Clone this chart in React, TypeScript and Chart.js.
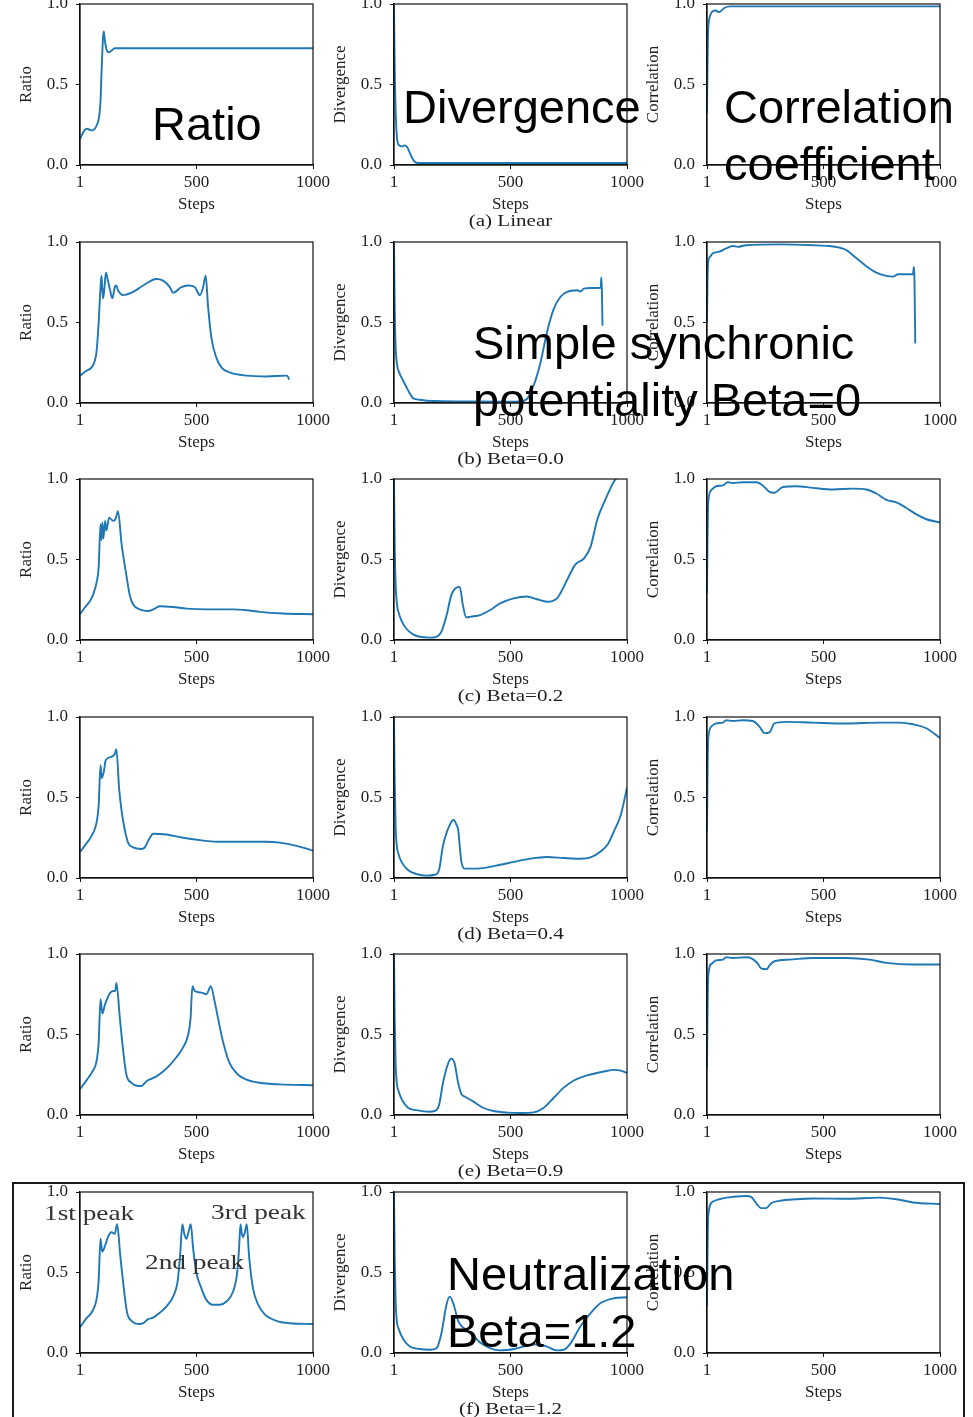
import React, { useEffect, useRef } from "react";
import { Chart, registerables } from "chart.js";

Chart.register(...registerables);

// ---- shared axis labels ----
const STEP_TICKS = [1, 500, 1000];
const VALUE_TICKS = [0, 0.5, 1];
const Y_TITLES = ["Ratio", "Divergence", "Correlation"];
const CAPTIONS = ["(a) Linear", "(b) Beta=0.0", "(c) Beta=0.2", "(d) Beta=0.4", "(e) Beta=0.9", "(f) Beta=1.2"];

// ---- (a) Linear ----
const linearRatioSteps = [1, 10, 20, 31, 50, 64, 74, 83, 89, 94, 100, 103, 107, 114, 124, 136, 150, 1000];
const linearRatio = [0.16, 0.19, 0.215, 0.225, 0.215, 0.225, 0.25, 0.3, 0.4, 0.6, 0.8, 0.83, 0.78, 0.72, 0.7, 0.71, 0.725, 0.725];
const linearDivergenceSteps = [1, 4, 8, 13, 19, 26, 34, 47, 58, 69, 80, 90, 104, 1000];
const linearDivergence = [1.0, 0.6, 0.34, 0.18, 0.13, 0.12, 0.115, 0.122, 0.11, 0.075, 0.04, 0.02, 0.012, 0.012];
const linearCorrelationSteps = [1, 3, 5, 8, 15, 25, 40, 50, 60, 75, 100, 1000];
const linearCorrelation = [0.32, 0.6, 0.8, 0.88, 0.93, 0.955, 0.96, 0.95, 0.955, 0.975, 0.985, 0.985];

// ---- (b) Beta=0.0 ----
const beta00RatioSteps = [1, 29, 50, 64, 72, 81, 89, 93, 97, 100, 106, 112, 118, 130, 140, 150, 156, 164, 186, 229, 272, 329, 357, 386, 400, 436, 465, 493, 515, 529, 540, 550, 565, 586, 608, 643, 715, 800, 886, 892, 898];
const beta00Ratio = [0.17, 0.2, 0.22, 0.26, 0.32, 0.5, 0.72, 0.79, 0.7, 0.65, 0.72, 0.81, 0.78, 0.7, 0.65, 0.72, 0.73, 0.7, 0.67, 0.69, 0.73, 0.77, 0.76, 0.72, 0.685, 0.72, 0.73, 0.72, 0.67, 0.72, 0.79, 0.6, 0.4, 0.28, 0.22, 0.19, 0.17, 0.165, 0.17, 0.165, 0.145];
const beta00DivergenceSteps = [1, 4, 8, 14, 23, 40, 61, 83, 111, 169, 300, 450, 540, 571, 600, 629, 657, 686, 715, 743, 786, 800, 815, 844, 887, 890, 892, 895];
const beta00Divergence = [1.0, 0.6, 0.35, 0.24, 0.19, 0.14, 0.08, 0.03, 0.02, 0.012, 0.01, 0.008, 0.01, 0.025, 0.11, 0.25, 0.44, 0.585, 0.66, 0.69, 0.7, 0.693, 0.71, 0.714, 0.716, 0.78, 0.716, 0.48];
const beta00CorrelationSteps = [1, 3, 6, 15, 26, 54, 83, 112, 133, 169, 312, 455, 526, 569, 598, 641, 684, 727, 770, 798, 820, 884, 888, 890, 892, 894];
const beta00Correlation = [0.5, 0.75, 0.875, 0.91, 0.93, 0.94, 0.96, 0.975, 0.97, 0.98, 0.985, 0.98, 0.975, 0.965, 0.95, 0.9, 0.85, 0.81, 0.79, 0.785, 0.8, 0.8, 0.845, 0.8, 0.6, 0.37];

// ---- (c) Beta=0.2 ----
const beta02RatioSteps = [1, 21, 43, 57, 74, 81, 89, 93, 97, 101, 109, 114, 126, 143, 153, 164, 179, 200, 214, 229, 257, 293, 315, 343, 400, 457, 543, 657, 715, 772, 872, 1000];
const beta02Ratio = [0.16, 0.2, 0.24, 0.28, 0.37, 0.45, 0.72, 0.62, 0.73, 0.63, 0.74, 0.68, 0.76, 0.74, 0.75, 0.8, 0.6, 0.4, 0.28, 0.22, 0.19, 0.18, 0.19, 0.21, 0.205, 0.195, 0.19, 0.19, 0.185, 0.175, 0.165, 0.16];
const beta02DivergenceSteps = [1, 4, 8, 14, 21, 33, 54, 83, 111, 154, 183, 204, 226, 247, 268, 283, 296, 311, 330, 370, 413, 456, 514, 571, 614, 657, 700, 743, 779, 815, 844, 873, 908, 944, 958];
const beta02Divergence = [1.0, 0.6, 0.35, 0.22, 0.17, 0.12, 0.07, 0.035, 0.02, 0.015, 0.02, 0.05, 0.15, 0.28, 0.325, 0.33, 0.22, 0.14, 0.145, 0.155, 0.186, 0.228, 0.259, 0.27, 0.253, 0.238, 0.259, 0.373, 0.47, 0.505, 0.58, 0.75, 0.875, 0.985, 1.01];
const beta02CorrelationSteps = [1, 3, 6, 19, 40, 69, 90, 112, 155, 212, 240, 269, 290, 326, 383, 455, 541, 627, 684, 727, 770, 813, 856, 899, 942, 1000];
const beta02Correlation = [0.29, 0.6, 0.85, 0.93, 0.955, 0.96, 0.98, 0.975, 0.98, 0.98, 0.96, 0.92, 0.915, 0.95, 0.955, 0.945, 0.935, 0.94, 0.935, 0.91, 0.87, 0.855, 0.82, 0.78, 0.75, 0.73];

// ---- (d) Beta=0.4 ----
const beta04RatioSteps = [1, 31, 50, 74, 81, 89, 94, 103, 111, 129, 150, 157, 169, 179, 193, 207, 229, 264, 279, 297, 315, 372, 443, 515, 586, 657, 800, 857, 929, 1000];
const beta04Ratio = [0.16, 0.22, 0.26, 0.36, 0.45, 0.7, 0.62, 0.66, 0.73, 0.75, 0.77, 0.8, 0.55, 0.42, 0.3, 0.22, 0.19, 0.18, 0.19, 0.24, 0.275, 0.27, 0.25, 0.235, 0.225, 0.225, 0.225, 0.22, 0.2, 0.17];
const beta04DivergenceSteps = [1, 4, 8, 13, 20, 33, 61, 97, 140, 176, 194, 211, 240, 257, 269, 276, 284, 290, 304, 370, 456, 514, 586, 657, 729, 800, 844, 887, 916, 944, 973, 1000];
const beta04Divergence = [1.0, 0.6, 0.32, 0.2, 0.15, 0.1, 0.05, 0.025, 0.015, 0.02, 0.05, 0.2, 0.33, 0.36, 0.33, 0.3, 0.18, 0.1, 0.058, 0.06, 0.082, 0.1, 0.12, 0.13, 0.124, 0.12, 0.128, 0.165, 0.206, 0.29, 0.39, 0.56];
const beta04CorrelationSteps = [1, 3, 6, 19, 40, 69, 83, 112, 155, 197, 226, 247, 269, 290, 340, 455, 598, 741, 827, 884, 941, 1000];
const beta04Correlation = [0.29, 0.6, 0.86, 0.94, 0.96, 0.965, 0.98, 0.975, 0.98, 0.975, 0.94, 0.9, 0.905, 0.96, 0.97, 0.965, 0.96, 0.965, 0.965, 0.955, 0.93, 0.87];

// ---- (e) Beta=0.9 ----
const beta09RatioSteps = [1, 31, 50, 74, 81, 89, 97, 107, 117, 131, 146, 152, 157, 172, 186, 200, 222, 250, 264, 286, 307, 329, 357, 386, 415, 443, 465, 475, 483, 493, 522, 543, 562, 579, 593, 615, 643, 679, 715, 772, 857, 1000];
const beta09Ratio = [0.16, 0.22, 0.26, 0.35, 0.45, 0.72, 0.63, 0.68, 0.72, 0.76, 0.77, 0.77, 0.82, 0.6, 0.4, 0.25, 0.2, 0.18, 0.18, 0.21, 0.225, 0.24, 0.27, 0.31, 0.36, 0.42, 0.5, 0.6, 0.8, 0.77, 0.76, 0.75, 0.8, 0.7, 0.6, 0.45, 0.32, 0.25, 0.22, 0.2, 0.19, 0.185];
const beta09DivergenceSteps = [1, 4, 8, 13, 20, 37, 61, 97, 154, 176, 194, 211, 233, 247, 261, 276, 290, 304, 340, 383, 428, 485, 543, 600, 643, 686, 729, 772, 815, 857, 901, 944, 973, 1000];
const beta09Divergence = [1.0, 0.6, 0.32, 0.2, 0.15, 0.09, 0.045, 0.03, 0.02, 0.025, 0.06, 0.2, 0.32, 0.35, 0.32, 0.2, 0.13, 0.115, 0.085, 0.045, 0.025, 0.015, 0.012, 0.016, 0.045, 0.107, 0.17, 0.214, 0.24, 0.256, 0.27, 0.28, 0.276, 0.26];
const beta09CorrelationSteps = [1, 3, 6, 21, 40, 69, 83, 112, 169, 190, 219, 233, 257, 269, 290, 355, 455, 598, 698, 770, 884, 1000];
const beta09Correlation = [0.29, 0.6, 0.86, 0.94, 0.96, 0.965, 0.98, 0.975, 0.98, 0.975, 0.94, 0.91, 0.905, 0.93, 0.955, 0.965, 0.975, 0.975, 0.965, 0.945, 0.935, 0.935];

// ---- (f) Beta=1.2 ----
const beta12RatioSteps = [1, 31, 50, 74, 81, 89, 96, 107, 121, 136, 150, 160, 174, 189, 203, 222, 257, 272, 293, 315, 343, 372, 400, 420, 430, 440, 448, 457, 466, 476, 486, 500, 522, 543, 572, 600, 629, 657, 675, 683, 689, 695, 700, 708, 716, 726, 743, 765, 793, 843, 900, 1000];
const beta12Ratio = [0.16, 0.22, 0.25, 0.35, 0.45, 0.71, 0.63, 0.66, 0.72, 0.75, 0.74, 0.8, 0.6, 0.4, 0.25, 0.2, 0.18, 0.185, 0.21, 0.22, 0.25, 0.29, 0.35, 0.45, 0.6, 0.8, 0.74, 0.71, 0.75, 0.8, 0.65, 0.5, 0.4, 0.33, 0.3, 0.3, 0.32, 0.38, 0.5, 0.65, 0.8, 0.74, 0.72, 0.75, 0.8, 0.6, 0.4, 0.3, 0.24, 0.2, 0.185, 0.18];
const beta12DivergenceSteps = [1, 4, 8, 13, 21, 43, 69, 111, 154, 183, 204, 226, 240, 257, 276, 304, 340, 370, 413, 456, 514, 571, 614, 657, 700, 729, 758, 800, 844, 887, 944, 1000];
const beta12Divergence = [1.0, 0.6, 0.32, 0.2, 0.15, 0.08, 0.04, 0.025, 0.02, 0.03, 0.12, 0.3, 0.35, 0.3, 0.2, 0.15, 0.11, 0.065, 0.03, 0.016, 0.025, 0.045, 0.054, 0.04, 0.016, 0.02, 0.06, 0.165, 0.247, 0.31, 0.34, 0.346];
const beta12CorrelationSteps = [1, 3, 6, 26, 54, 83, 112, 169, 190, 212, 233, 255, 276, 312, 383, 455, 598, 741, 813, 884, 1000];
const beta12Correlation = [0.29, 0.6, 0.85, 0.94, 0.955, 0.965, 0.97, 0.975, 0.97, 0.93, 0.9, 0.9, 0.93, 0.945, 0.955, 0.96, 0.958, 0.965, 0.955, 0.935, 0.925];

type Series = { steps: number[]; values: number[] };

const GRID: Series[][] = [
  [
    { steps: linearRatioSteps, values: linearRatio },
    { steps: linearDivergenceSteps, values: linearDivergence },
    { steps: linearCorrelationSteps, values: linearCorrelation },
  ],
  [
    { steps: beta00RatioSteps, values: beta00Ratio },
    { steps: beta00DivergenceSteps, values: beta00Divergence },
    { steps: beta00CorrelationSteps, values: beta00Correlation },
  ],
  [
    { steps: beta02RatioSteps, values: beta02Ratio },
    { steps: beta02DivergenceSteps, values: beta02Divergence },
    { steps: beta02CorrelationSteps, values: beta02Correlation },
  ],
  [
    { steps: beta04RatioSteps, values: beta04Ratio },
    { steps: beta04DivergenceSteps, values: beta04Divergence },
    { steps: beta04CorrelationSteps, values: beta04Correlation },
  ],
  [
    { steps: beta09RatioSteps, values: beta09Ratio },
    { steps: beta09DivergenceSteps, values: beta09Divergence },
    { steps: beta09CorrelationSteps, values: beta09Correlation },
  ],
  [
    { steps: beta12RatioSteps, values: beta12Ratio },
    { steps: beta12DivergenceSteps, values: beta12Divergence },
    { steps: beta12CorrelationSteps, values: beta12Correlation },
  ],
];

// ---- layout ----
const ROW_TOPS = [4, 242, 479, 717, 954, 1192];
const COL_LEFTS = [80, 394, 707];
const AREA_W = 233;
const AREA_H = 161;
const Y_W = 80;
const X_H = 50;
const PAD_TOP = 12;
const PAD_RIGHT = 28;
const CANVAS_W = Y_W + AREA_W + PAD_RIGHT;
const CANVAS_H = PAD_TOP + AREA_H + X_H;

const SERIF = '"Liberation Serif", "Times New Roman", serif';
const SANS = '"Liberation Sans", Arial, sans-serif';
const INK = "#1e1e1e";
const LINE = "#1f77b4";

const framePlugin = {
  id: "frame",
  afterDatasetsDraw(chart: Chart) {
    const { ctx, chartArea } = chart;
    const { left, top, right, bottom } = chartArea;
    ctx.save();
    ctx.strokeStyle = "#111";
    ctx.lineWidth = 1.2;
    ctx.strokeRect(left, top, right - left, bottom - top);
    ctx.restore();
  },
};

function Panel({ left, top, yTitle, series }: { left: number; top: number; yTitle: string; series: Series }) {
  const ref = useRef<HTMLCanvasElement>(null);

  useEffect(() => {
    const font = { family: SERIF, size: 17 };
    const points = series.steps.map((s, i) => ({ x: s, y: series.values[i] }));
    const chart = new Chart(ref.current as HTMLCanvasElement, {
      type: "line",
      data: {
        datasets: [
          {
            data: points,
            borderColor: LINE,
            borderWidth: 1.9,
            pointRadius: 0,
            fill: false,
            cubicInterpolationMode: "monotone",
          },
        ],
      },
      options: {
        animation: false,
        responsive: false,
        maintainAspectRatio: false,
        events: [],
        layout: { padding: { left: 0, right: PAD_RIGHT, top: PAD_TOP, bottom: 0 } },
        plugins: { legend: { display: false }, tooltip: { enabled: false } },
        scales: {
          x: {
            type: "linear",
            min: 1,
            max: 1000,
            afterBuildTicks: (s: any) => {
              s.ticks = STEP_TICKS.map((v) => ({ value: v }));
            },
            afterFit: (s: any) => {
              s.height = X_H;
              s.paddingLeft = 0;
              s.paddingRight = 0;
            },
            ticks: {
              font,
              color: INK,
              padding: 3,
              maxRotation: 0,
              autoSkip: false,
              callback: (v: any) => String(v),
            },
            grid: { display: true, drawOnChartArea: false, drawTicks: true, tickLength: 4, tickColor: "#111", tickWidth: 1 },
            border: { display: true, color: "#111", width: 1.2 },
            title: { display: true, text: "Steps", font, color: INK, padding: 0 },
          },
          y: {
            type: "linear",
            min: 0,
            max: 1,
            afterBuildTicks: (s: any) => {
              s.ticks = VALUE_TICKS.map((v) => ({ value: v }));
            },
            afterFit: (s: any) => {
              s.width = Y_W;
              s.paddingTop = 0;
              s.paddingBottom = 0;
            },
            ticks: {
              font,
              color: INK,
              padding: 8,
              autoSkip: false,
              callback: (v: any) => Number(v).toFixed(1),
            },
            grid: { display: true, drawOnChartArea: false, drawTicks: true, tickLength: 4, tickColor: "#111", tickWidth: 1 },
            border: { display: true, color: "#111", width: 1.2 },
            title: { display: true, text: yTitle, font, color: INK, padding: { top: 16, bottom: 0 } },
          },
        },
      },
      plugins: [framePlugin],
    } as any);
    return () => chart.destroy();
  }, [series, yTitle]);

  return (
    <canvas
      ref={ref}
      width={CANVAS_W}
      height={CANVAS_H}
      style={{ position: "absolute", left: left - Y_W, top: top - PAD_TOP, width: CANVAS_W, height: CANVAS_H }}
    />
  );
}

const bigText: React.CSSProperties = {
  position: "absolute",
  fontFamily: SANS,
  fontSize: 47,
  lineHeight: "57px",
  color: "#000",
  whiteSpace: "nowrap",
};

const peakText: React.CSSProperties = {
  position: "absolute",
  fontFamily: SERIF,
  fontSize: 22,
  lineHeight: "24px",
  color: "#333",
  whiteSpace: "nowrap",
  transform: "scaleX(1.24)",
  transformOrigin: "left center",
};

export default function App() {
  return (
    <div
      style={{
        position: "absolute",
        left: 0,
        top: 0,
        width: 973,
        height: 1417,
        overflow: "hidden",
        background: "#fff",
      }}
    >
      {GRID.map((row, r) =>
        row.map((series, c) => (
          <Panel key={`${r}-${c}`} left={COL_LEFTS[c]} top={ROW_TOPS[r]} yTitle={Y_TITLES[c]} series={series} />
        ))
      )}

      {CAPTIONS.map((cap, r) => (
        <div
          key={cap}
          style={{
            position: "absolute",
            left: COL_LEFTS[1],
            top: ROW_TOPS[r] + AREA_H + 46,
            width: AREA_W,
            textAlign: "center",
            fontFamily: SERIF,
            fontSize: 17,
            lineHeight: "20px",
            color: INK,
            transform: "scaleX(1.24)",
            whiteSpace: "nowrap",
          }}
        >
          {cap}
        </div>
      ))}

      {/* frame around the Beta=1.2 row */}
      <div
        style={{
          position: "absolute",
          left: 12,
          top: 1182,
          width: 949,
          height: 300,
          border: "2px solid #1a1a1a",
        }}
      />

      <div style={{ ...bigText, left: 152, top: 95 }}>Ratio</div>
      <div style={{ ...bigText, left: 403, top: 78 }}>Divergence</div>
      <div style={{ ...bigText, left: 724, top: 78 }}>
        Correlation
        <br />
        coefficient
      </div>
      <div style={{ ...bigText, left: 473, top: 314 }}>
        Simple synchronic
        <br />
        potentiality Beta=0
      </div>
      <div style={{ ...bigText, left: 447, top: 1245 }}>
        Neutralization
        <br />
        Beta=1.2
      </div>

      <div style={{ ...peakText, left: 44, top: 1201 }}>1st peak</div>
      <div style={{ ...peakText, left: 145, top: 1250 }}>2nd peak</div>
      <div style={{ ...peakText, left: 211, top: 1200 }}>3rd peak</div>
    </div>
  );
}
